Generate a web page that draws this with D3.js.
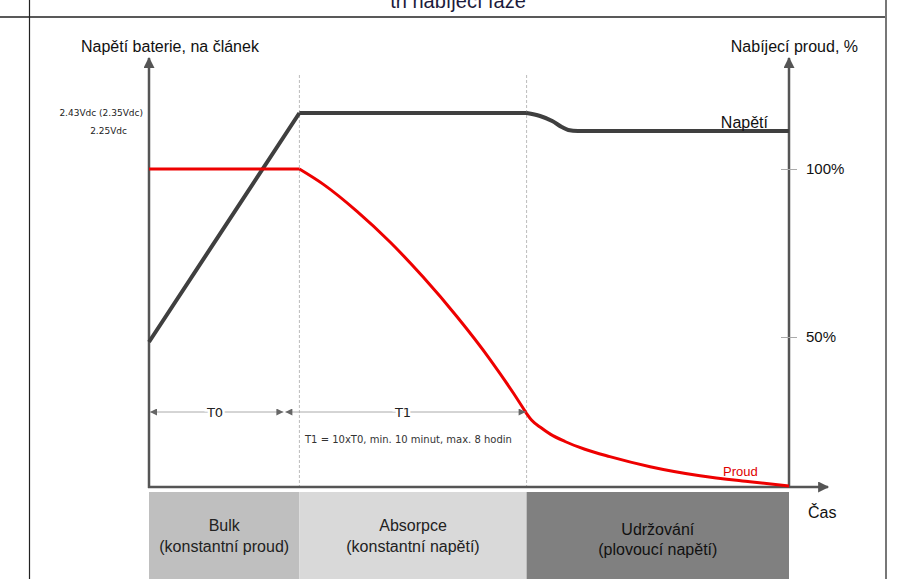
<!DOCTYPE html>
<html lang="cs">
<head>
<meta charset="utf-8">
<script src="https://d3js.org/d3.v7.min.js"></script>
<style>
  body { margin: 0; background: #fff; }
  text { font-family: "Liberation Sans", Arial, sans-serif; }
</style>
</head>
<body>
<div id="chart"></div>
<script>

// ---- data (time in % of chart width, voltage in V per cell, current in %) ----
var phaseNames = ["Bulk", "Absorpce", "Udržování"];
var phaseSubs = ["(konstantní proud)", "(konstantní napětí)", "(plovoucí napětí)"];
var phaseEnds = [0, 23.5, 59.0, 100];

var voltTime = [0, 23.5, 59.0, 61.1, 63.0, 64.5, 65.5, 67.0, 100];
var voltage  = [0.14, 2.43, 2.43, 2.40, 2.35, 2.29, 2.26, 2.25, 2.25];

var currTime = [0, 23.5, 27.2, 32.5, 37.7, 42.8, 48.1, 53.3, 56.9, 59.0,
                59.8, 61.1, 62.7, 65.0, 68.1, 72.0, 78.3, 86.1, 93.9, 100];
var current  = [100, 100, 95.5, 87.4, 78.2, 67.9, 56.1, 43.3, 33.4, 27.2,
                25.2, 23.2, 21.1, 18.9, 16.6, 14.4, 11.4, 8.7, 6.9, 5.65];

var voltTicks = [2.43, 2.25];
var voltTickLabels = ["2.43Vdc (2.35Vdc)", "2.25Vdc"];
var currTicks = [50, 100];

var W = 911, H = 579;
var left = 149, right = 789, axisY = 487;

var svg = d3.select("#chart").append("svg")
  .attr("width", W).attr("height", H);

// arrow markers
var defs = svg.append("defs");
defs.append("marker").attr("id", "axArrow")
  .attr("viewBox", "0 0 10 10").attr("refX", 9).attr("refY", 5)
  .attr("markerUnits", "userSpaceOnUse")
  .attr("markerWidth", 12).attr("markerHeight", 11).attr("orient", "auto")
  .append("path").attr("d", "M0,0 L10,5 L0,10 Z").attr("fill", "#555");
defs.append("marker").attr("id", "dimArrow")
  .attr("viewBox", "0 0 10 10").attr("refX", 10).attr("refY", 5)
  .attr("markerUnits", "userSpaceOnUse")
  .attr("markerWidth", 8).attr("markerHeight", 7).attr("orient", "auto-start-reverse")
  .append("path").attr("d", "M0,0 L10,5 L0,10 Z").attr("fill", "#666");

// table frame
svg.append("line").attr("x1", 0).attr("x2", 886).attr("y1", 17).attr("y2", 17)
  .attr("stroke", "#222").attr("stroke-width", 1.5);
svg.append("line").attr("x1", 29.5).attr("x2", 29.5).attr("y1", 0).attr("y2", H)
  .attr("stroke", "#222").attr("stroke-width", 1.2);
svg.append("line").attr("x1", 886).attr("x2", 886).attr("y1", 0).attr("y2", H)
  .attr("stroke", "#777").attr("stroke-width", 2);

// title of the table cell, cut off at the top edge as in the source
svg.append("text").attr("x", 458).attr("y", 8)
  .attr("text-anchor", "middle").style("font-size", "20px").attr("fill", "#1c1c3c")
  .text("tři nabíjecí fáze");

// scales
var x = d3.scaleLinear().domain([0, 100]).range([left, right]);
var yV = d3.scaleLinear().domain([0, 2.43]).range([356, 113]);
var yI = d3.scaleLinear().domain([0, 100]).range([505, 169]);

// phase blocks
var blockFill = d3.scaleOrdinal().domain(phaseNames).range(["#bfbfbf", "#d9d9d9", "#808080"]);
var blocks = svg.selectAll(".phase").data(phaseNames).enter().append("g").attr("class", "phase");
blocks.append("rect")
  .attr("x", function(d, i) { return x(phaseEnds[i]); })
  .attr("width", function(d, i) { return x(phaseEnds[i + 1]) - x(phaseEnds[i]); })
  .attr("y", 492).attr("height", H - 492)
  .attr("fill", function(d) { return blockFill(d); });
blocks.append("text")
  .attr("x", function(d, i) { return (x(phaseEnds[i]) + x(phaseEnds[i + 1])) / 2; })
  .attr("y", function(d, i) { return i == 2 ? 535 : 531; })
  .attr("text-anchor", "middle").style("font-size", "16px")
  .attr("fill", function(d, i) { return i == 2 ? "#111" : "#222"; })
  .text(function(d) { return d; });
blocks.append("text")
  .attr("x", function(d, i) { return (x(phaseEnds[i]) + x(phaseEnds[i + 1])) / 2; })
  .attr("y", function(d, i) { return i == 2 ? 555 : 552; })
  .attr("text-anchor", "middle").style("font-size", "16px")
  .attr("fill", function(d, i) { return i == 2 ? "#111" : "#222"; })
  .text(function(d, i) { return phaseSubs[i]; });

// dashed phase boundaries
svg.selectAll(".bound").data(phaseEnds.slice(1, 3)).enter().append("line")
  .attr("x1", function(d) { return x(d); }).attr("x2", function(d) { return x(d); })
  .attr("y1", 75).attr("y2", axisY)
  .attr("stroke", "#bbb").attr("stroke-width", 1).attr("stroke-dasharray", "3,2");

// axes
svg.append("line").attr("x1", left).attr("x2", left).attr("y1", axisY + 1).attr("y2", 58)
  .attr("stroke", "#555").attr("stroke-width", 2.5).attr("marker-end", "url(#axArrow)");
svg.append("line").attr("x1", right).attr("x2", right).attr("y1", axisY + 1).attr("y2", 58)
  .attr("stroke", "#555").attr("stroke-width", 2.5).attr("marker-end", "url(#axArrow)");
svg.append("line").attr("x1", left - 1).attr("x2", 828).attr("y1", axisY).attr("y2", axisY)
  .attr("stroke", "#555").attr("stroke-width", 2.5).attr("marker-end", "url(#axArrow)");

// right axis ticks
var rAxis = svg.append("g")
  .attr("transform", "translate(" + (right - 8) + ",0)")
  .call(d3.axisRight(yI).tickValues(currTicks).tickSize(16).tickPadding(9)
    .tickFormat(function(d) { return d + "%"; }));
rAxis.select(".domain").remove();
rAxis.selectAll("line").attr("stroke", "#aaa");
rAxis.selectAll("text").style("font-size", "15px").attr("fill", "#111")
  .style("font-family", "'Liberation Sans', Arial, sans-serif");

// left voltage labels
svg.selectAll(".vtick").data(voltTicks).enter().append("text")
  .attr("x", function(d, i) { return i == 0 ? 143 : 127; })
  .attr("y", function(d) { return yV(d); }).attr("dy", "0.35em")
  .attr("text-anchor", "end").style("font-family", "'DejaVu Sans', Verdana, sans-serif")
  .style("font-size", "9px").attr("fill", "#222")
  .text(function(d, i) { return voltTickLabels[i]; });

// axis titles
svg.append("text").attr("x", 81).attr("y", 52).style("font-size", "16px").attr("fill", "#111")
  .text("Napětí baterie, na článek");
svg.append("text").attr("x", 858).attr("y", 52).attr("text-anchor", "end")
  .style("font-size", "16px").attr("fill", "#111").text("Nabíjecí proud, %");
svg.append("text").attr("x", 808).attr("y", 518).style("font-size", "16px").attr("fill", "#111")
  .text("Čas");

// split a series at the phase boundaries so corners stay sharp
function segments(ts, vs) {
  var segs = [];
  for (var p = 0; p < phaseEnds.length - 1; p++) {
    var s = [];
    ts.forEach(function(t, i) {
      if (t >= phaseEnds[p] && t <= phaseEnds[p + 1]) s.push([t, vs[i]]);
    });
    if (s.length > 1) segs.push(s);
  }
  return segs;
}

var lineV = d3.line().x(function(d) { return x(d[0]); }).y(function(d) { return yV(d[1]); })
  .curve(d3.curveMonotoneX);
var lineI = d3.line().x(function(d) { return x(d[0]); }).y(function(d) { return yI(d[1]); })
  .curve(d3.curveMonotoneX);

svg.append("path").datum(segments(voltTime, voltage))
  .attr("d", function(d) { return d.map(lineV).join(""); })
  .attr("fill", "none").attr("stroke", "#3f3f3f").attr("stroke-width", 4)
  .attr("stroke-linejoin", "round");
svg.append("path").datum(segments(currTime, current))
  .attr("d", function(d) { return d.map(lineI).join(""); })
  .attr("fill", "none").attr("stroke", "#ee0000").attr("stroke-width", 3)
  .attr("stroke-linejoin", "round");

// series labels
svg.append("text").attr("x", 768).attr("y", 128).attr("text-anchor", "end")
  .style("font-size", "16px").attr("fill", "#111").text("Napětí");
svg.append("text").attr("x", 723).attr("y", 476)
  .style("font-size", "13px").attr("fill", "#e00000").text("Proud");

// dimension arrows T0 / T1
var dimY = 412;
var dims = [
  { a: x(phaseEnds[0]) + 1, b: x(phaseEnds[1]) - 16, label: "T0" },
  { a: x(phaseEnds[1]) - 14, b: x(phaseEnds[2]) - 1, label: "T1" }
];
var dg = svg.selectAll(".dim").data(dims).enter().append("g");
dg.append("line")
  .attr("x1", function(d) { return d.a; }).attr("x2", function(d) { return d.b; })
  .attr("y1", dimY).attr("y2", dimY)
  .attr("stroke", "#aaa").attr("stroke-width", 1)
  .attr("marker-start", "url(#dimArrow)").attr("marker-end", "url(#dimArrow)");
dg.append("text")
  .attr("x", function(d) { return d.label == "T0" ? 215 : 403; })
  .attr("y", dimY).attr("dy", "0.36em").attr("text-anchor", "middle")
  .style("font-family", "'DejaVu Sans', Verdana, sans-serif").style("font-size", "13px")
  .attr("fill", "#222").attr("stroke", "#fff").attr("stroke-width", 5)
  .attr("paint-order", "stroke")
  .text(function(d) { return d.label; });

svg.append("text").attr("x", 305).attr("y", 443)
  .style("font-family", "'DejaVu Sans', Verdana, sans-serif").style("font-size", "10px")
  .attr("fill", "#333").attr("stroke", "#fff").attr("stroke-width", 3)
  .attr("paint-order", "stroke")
  .text("T1 = 10xT0, min. 10 minut, max. 8 hodin");

</script>
</body>
</html>
